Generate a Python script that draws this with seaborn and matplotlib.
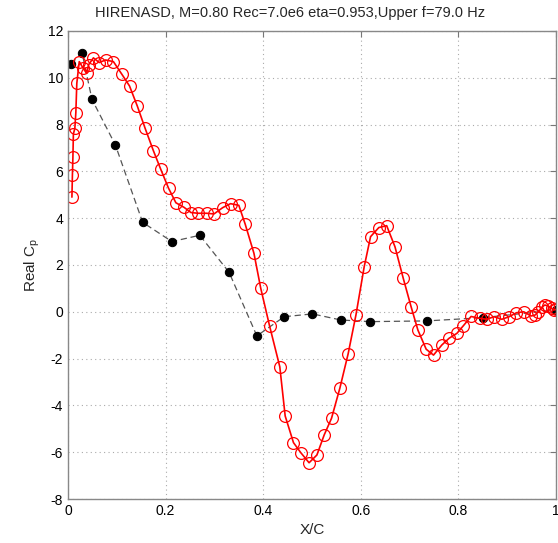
import numpy as np
import pandas as pd
import matplotlib
matplotlib.use('Agg')
import matplotlib.pyplot as plt
import seaborn as sns

# upper surface, real part of Cp (red, open circles)
x_upper = [0.008, 0.009, 0.010, 0.011, 0.014, 0.016, 0.018, 0.023, 0.031, 0.038,
           0.042, 0.052, 0.064, 0.077, 0.093, 0.110, 0.126, 0.142, 0.158, 0.175,
           0.190, 0.206, 0.221, 0.238, 0.252, 0.267, 0.284, 0.299, 0.317, 0.333,
           0.350, 0.363, 0.381, 0.395, 0.413, 0.434, 0.445, 0.462, 0.477, 0.494,
           0.510, 0.525, 0.540, 0.557, 0.574, 0.590, 0.607, 0.620, 0.637, 0.653,
           0.670, 0.687, 0.703, 0.717, 0.734, 0.749, 0.766, 0.781, 0.797, 0.810,
           0.826, 0.844, 0.858, 0.873, 0.889, 0.904, 0.919, 0.934, 0.949, 0.957,
           0.964, 0.971, 0.977, 0.984, 0.991, 0.996, 1.000]
cp_upper = [4.9, 5.85, 6.6, 7.6, 7.84, 8.5, 9.76, 10.69, 10.41, 10.19,
            10.55, 10.85, 10.65, 10.76, 10.69, 10.16, 9.65, 8.79, 7.84, 6.88,
            6.09, 5.28, 4.66, 4.46, 4.24, 4.21, 4.21, 4.18, 4.45, 4.62,
            4.55, 3.75, 2.5, 1.0, -0.6, -2.35, -4.45, -5.59, -6.02, -6.45,
            -6.12, -5.26, -4.55, -3.27, -1.8, -0.14, 1.93, 3.21, 3.6, 3.68,
            2.78, 1.43, 0.22, -0.78, -1.6, -1.85, -1.42, -1.13, -0.92, -0.6,
            -0.2, -0.28, -0.32, -0.21, -0.32, -0.21, -0.04, 0.0, -0.18, -0.14,
            0.0, 0.19, 0.29, 0.25, 0.15, 0.08, 0.1]

# experimental points (black dots, dashed)
x_exp = [0.006, 0.029, 0.049, 0.097, 0.153, 0.213, 0.270, 0.330, 0.387, 0.443,
         0.501, 0.559, 0.619, 0.735, 0.851, 1.000]
cp_exp = [10.6, 11.05, 9.08, 7.13, 3.82, 3.0, 3.27, 1.69, -1.03, -0.21,
          -0.09, -0.35, -0.42, -0.39, -0.25, 0.08]

title = 'HIRENASD, M=0.80 Rec=7.0e6 eta=0.953,Upper f=79.0 Hz'

sns.set_style('white')
plt.rcParams['font.family'] = ['Liberation Sans', 'DejaVu Sans']
plt.rcParams['mathtext.fontset'] = 'custom'
plt.rcParams['mathtext.rm'] = 'Liberation Sans'
plt.rcParams['axes.unicode_minus'] = False

fig = plt.figure(figsize=(5.58, 5.43), dpi=100)
ax = fig.add_axes([0.1219, 0.081, 0.8745, 0.862])

df_exp = pd.DataFrame({'x': x_exp, 'cp': cp_exp})
df_up = pd.DataFrame({'x': x_upper, 'cp': cp_upper})

sns.lineplot(data=df_exp, x='x', y='cp', ax=ax, sort=False, estimator=None,
             color='#555555', linestyle=(0, (5, 3)), linewidth=0.9,
             marker='o', markersize=6, markerfacecolor='black',
             markeredgecolor='black')
sns.lineplot(data=df_up, x='x', y='cp', ax=ax, sort=False, estimator=None,
             color='red', linewidth=1.2,
             marker='o', markersize=8.5, markerfacecolor='none',
             markeredgecolor='red', markeredgewidth=0.9)

ax.set_xlim(0, 1)
ax.set_ylim(-8, 12)
ax.set_xticks([0, 0.2, 0.4, 0.6, 0.8, 1])
ax.set_xticklabels(['0', '0.2', '0.4', '0.6', '0.8', '1'])
ax.set_yticks(range(-8, 13, 2))
ax.grid(True, linestyle=(0, (1, 3)), color='#aaaaaa', linewidth=0.8)
ax.tick_params(direction='in', length=4, labelsize=10, colors='#777777',
               labelcolor='black', top=True, right=True)
for s in ax.spines.values():
    s.set_color('#888888')
    s.set_linewidth(1.0)

ax.set_xlabel('X/C', fontsize=11)
ax.set_ylabel(r'Real C$_\mathregular{p}$', fontsize=11)
fig.text(290 / 558, 1 - 13 / 543, title, fontsize=10.5, ha='center', va='center')

fig.savefig('out.png', dpi=100)
